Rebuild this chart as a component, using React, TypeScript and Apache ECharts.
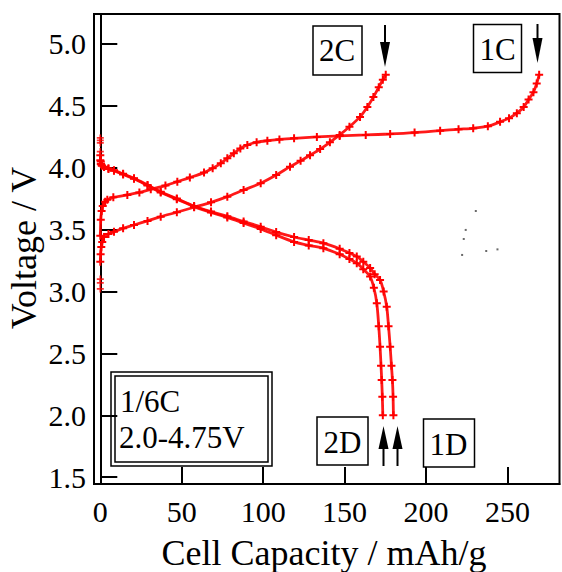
import React, { useEffect, useRef } from "react";
import * as echarts from "echarts";

const FONT = '"Liberation Serif", "Times New Roman", serif';

// capacity (mAh/g), voltage (V)
const charge1C: number[][] = [
  [0, 3.45], [0.3, 3.58], [0.8, 3.65], [1.5, 3.69], [3, 3.725], [4.3, 3.74], [8, 3.76], [16.6, 3.78],
  [24, 3.8], [31, 3.825], [40, 3.855], [47.3, 3.887], [55, 3.92], [63.7, 3.96], [69, 3.995], [74, 4.035],
  [78, 4.075], [82, 4.116], [86, 4.155], [90.3, 4.183], [96, 4.205], [102.6, 4.218], [110, 4.228],
  [119, 4.237], [133, 4.248], [147, 4.256], [163, 4.264], [178, 4.272], [193, 4.283], [208.7, 4.299],
  [220, 4.31], [229, 4.318], [238, 4.335], [245.5, 4.37], [251, 4.4], [255.8, 4.44], [260, 4.49],
  [263, 4.55], [266, 4.61], [268, 4.68], [269.5, 4.75],
];
const charge2C: number[][] = [
  [0, 3.24], [0.2, 3.3], [0.6, 3.36], [1.2, 3.4], [2.3, 3.44], [5, 3.465], [8.4, 3.483], [14, 3.51],
  [20.7, 3.537], [29, 3.57], [37.1, 3.604], [47, 3.64], [57.6, 3.68], [68, 3.72], [78, 3.766], [88, 3.82],
  [98.5, 3.874], [108, 3.94], [116.5, 4.008], [123, 4.055], [128.8, 4.1], [135, 4.15], [141, 4.205],
  [147, 4.264], [153, 4.33], [159.5, 4.41], [164, 4.49], [167.7, 4.57], [171, 4.65], [173.5, 4.71],
  [175.3, 4.75],
];
const discharge1D: number[][] = [
  [0, 4.1], [0.3, 4.05], [0.8, 4.02], [2.3, 4.008], [5, 3.995], [8.4, 3.98], [14, 3.95], [20.7, 3.914],
  [29, 3.86], [37.1, 3.806], [47, 3.75], [57.6, 3.69], [68, 3.645], [78, 3.607], [88, 3.565], [98.5, 3.522],
  [108, 3.48], [119, 3.44], [128, 3.415], [137, 3.39], [147, 3.345], [153, 3.31], [157.5, 3.283],
  [161.5, 3.24], [165.7, 3.19], [168.5, 3.14], [171.8, 3.093], [174, 3.0], [175.9, 2.877], [177, 2.72],
  [178, 2.554], [178.8, 2.4], [179.4, 2.285], [179.8, 2.15], [180, 2.0],
];
const discharge2D: number[][] = [
  [0, 4.06], [0.3, 4.03], [1, 4.015], [2.3, 4.005], [5, 3.99], [8.4, 3.975], [14, 3.945], [20.7, 3.91],
  [29, 3.855], [37.1, 3.8], [47, 3.745], [57.6, 3.685], [68, 3.638], [78, 3.598], [88, 3.553], [98.5, 3.505],
  [108, 3.455], [119, 3.4], [128, 3.372], [137, 3.35], [147, 3.3], [153, 3.262], [157.5, 3.228],
  [161.5, 3.18], [165.7, 3.12], [168, 3.03], [169.8, 2.905], [171, 2.72], [171.8, 2.554], [172.4, 2.4],
  [172.8, 2.285], [173.2, 2.15], [173.5, 2.0],
];
const strayPoints: number[][] = [
  [0, 3.02], [0, 3.07], [0, 3.1], [0, 4.13], [0, 4.2], [0, 4.22], [0, 4.24],
];
const specks: number[][] = [
  [230.6, 3.65], [224.4, 3.497], [223.2, 3.424], [222.2, 3.295], [237, 3.327], [243.9, 3.34],
];

const xTicks = [0, 50, 100, 150, 200, 250];
const yTicks = [1.5, 2.0, 2.5, 3.0, 3.5, 4.0, 4.5, 5.0];

const xTitle = "Cell Capacity / mAh/g";
const yTitle = "Voltage / V";
const conditionLines = ["1/6C", "2.0-4.75V"];

const PLUS = "path://M3,0H5V3H8V5H5V8H3V5H0V3H3Z";
const RED = "#ff0000";

function curve(name: string, data: number[][]) {
  return {
    name,
    type: "line",
    data,
    smooth: 0.3,
    symbol: PLUS,
    symbolSize: 8,
    showAllSymbol: true,
    lineStyle: { color: RED, width: 2.8, opacity: 0.9 },
    itemStyle: { color: RED },
    z: 3,
  };
}

export default function App() {
  const ref = useRef<HTMLDivElement>(null);
  useEffect(() => {
    if (!ref.current) return;
    const chart = echarts.init(ref.current, null, { renderer: "svg" });
    const black = "#000";
    const box = (x: number, y: number, w: number, h: number, lw = 1.5) => ({
      type: "rect",
      shape: { x, y, width: w, height: h },
      style: { fill: "none", stroke: black, lineWidth: lw },
      z: 10,
    });
    const label = (text: string, x: number, y: number, size = 31, align = "center") => ({
      type: "text",
      x,
      y,
      style: { text, font: `${size}px ${FONT}`, fill: black, align, verticalAlign: "middle" },
      z: 10,
    });
    const downArrow = (x: number, top: number, headTop: number, tip: number) => [
      { type: "line", shape: { x1: x, y1: top, x2: x, y2: headTop + 2 }, style: { stroke: black, lineWidth: 2 }, z: 10 },
      { type: "polygon", shape: { points: [[x - 5, headTop], [x + 5, headTop], [x, tip]] }, style: { fill: black }, z: 10 },
    ];
    const upArrow = (x: number, tip: number, headBase: number, tail: number) => [
      { type: "line", shape: { x1: x, y1: headBase - 2, x2: x, y2: tail }, style: { stroke: black, lineWidth: 2 }, z: 10 },
      { type: "polygon", shape: { points: [[x - 5, headBase], [x + 5, headBase], [x, tip]] }, style: { fill: black }, z: 10 },
    ];
    chart.setOption({
      animation: false,
      backgroundColor: "#fff",
      grid: { left: 94, right: 2.5, top: 14, bottom: 88, show: true, borderColor: black, borderWidth: 2, backgroundColor: "transparent" },
      xAxis: {
        type: "value",
        min: -3.87,
        max: 282,
        axisLine: { show: true, lineStyle: { color: black, width: 2 } },
        axisTick: { show: true, inside: true, length: 17, lineStyle: { color: black, width: 2 }, customValues: xTicks },
        axisLabel: { customValues: xTicks, fontSize: 30, fontFamily: FONT, color: black, margin: 12 },
        splitLine: { show: false },
      },
      yAxis: {
        type: "value",
        min: 1.445,
        max: 5.241,
        axisLine: { show: true, lineStyle: { color: black, width: 2 } },
        axisTick: { show: true, inside: true, length: 17, lineStyle: { color: black, width: 2 }, customValues: yTicks },
        axisLabel: {
          customValues: yTicks,
          fontSize: 30,
          fontFamily: FONT,
          color: black,
          margin: 8,
          formatter: (v: number) => v.toFixed(1),
        },
        splitLine: { show: false },
      },
      series: [
        curve("1C", charge1C),
        curve("2C", charge2C),
        curve("1D", discharge1D),
        curve("2D", discharge2D),
        {
          name: "start",
          type: "scatter",
          data: strayPoints,
          symbol: PLUS,
          symbolSize: 7,
          itemStyle: { color: RED },
        },
        {
          name: "specks",
          type: "scatter",
          data: specks,
          symbol: "rect",
          symbolSize: 2,
          itemStyle: { color: "#444" },
        },
      ],
      graphic: [
        { type: "text", x: 24, y: 248, rotation: Math.PI / 2, style: { text: yTitle, font: `36px ${FONT}`, fill: black, align: "center", verticalAlign: "middle" } },
        { type: "text", x: 324, y: 552.5, style: { text: xTitle, font: `36px ${FONT}`, fill: black, align: "center", verticalAlign: "middle" } },
        box(313, 26, 49, 49),
        label("2C", 337, 50.5),
        box(473.5, 24.5, 48, 48),
        label("1C", 497.5, 49),
        box(317, 417, 51, 48),
        label("2D", 342.5, 442.5),
        box(423.5, 419, 51, 48),
        label("1D", 448.5, 444),
        ...downArrow(385, 25, 42, 67),
        ...downArrow(537.5, 24, 38, 63),
        ...upArrow(383.5, 426, 449, 466),
        ...upArrow(397.5, 426, 449, 466),
        box(111, 372, 161, 94, 1.5),
        box(115, 376, 153, 86, 1.5),
        label(conditionLines[0], 120, 401.5, 31, "left"),
        label(conditionLines[1], 119, 437, 31, "left"),
      ],
    });
    return () => chart.dispose();
  }, []);
  return (
    <div
      ref={ref}
      style={{ position: "fixed", left: 0, top: 0, width: 562, height: 572, overflow: "hidden", background: "#fff" }}
    />
  );
}
